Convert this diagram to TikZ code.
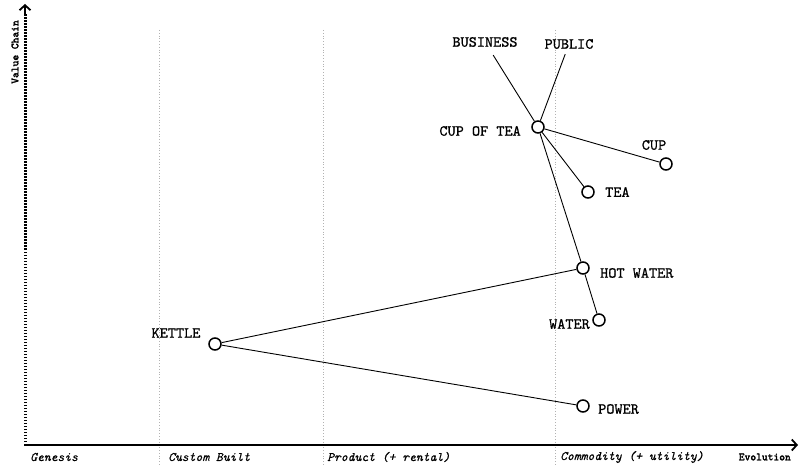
\documentclass[tikz,border=0pt]{standalone}
\usepackage{fontspec}
\usetikzlibrary{calc,shapes,arrows,arrows.meta}

\newfontfamily\tagfont[FakeBold=0.9]{lmmono10-regular.otf}
\newfontfamily\stagefont[FakeBold=0.5]{lmmono10-italic.otf}
\newfontfamily\axisfont[FakeBold=2.5]{lmmono10-regular.otf}

\tikzset{
  comp/.style={circle, draw=black, fill=white, line width=1.5pt, minimum size=12pt, inner sep=0pt},
  tag/.style={font=\fontsize{15.5}{17}\tagfont, inner sep=1pt},
  stage/.style={font=\fontsize{13}{15}\stagefont, inner sep=0pt},
  axistag/.style={font=\fontsize{11}{13}\axisfont, inner sep=0pt},
  gridline/.style={gray!60, dotted, line width=0.8pt},
  link/.style={black, line width=0.9pt},
  axistip/.style={-{Straight Barb[length=5pt, width=11pt, line width=1.8pt]}}
}

\begin{document}
\begin{tikzpicture}[x=1pt, y=-1pt]
    \useasboundingbox (0,0) rectangle (800,465);

    % evolution stages
    \draw [gridline] (159,30) -- (159,465);
    \draw [gridline] (323,30) -- (323,465);
    \draw [gridline] (555,30) -- (555,465);

    % axes
    \draw [black, line width=3pt, dash pattern=on 1.5pt off 1.5pt] (25,445) -- (25,14);
    \draw [line width=2pt, axistip] (25,16) -- (25,4);
    \draw [line width=2pt, axistip] (24,445) -- (798,445);

    \node [axistag, rotate=90] (valuechain) at (15,52) {Value Chain};
    \node [axistag, anchor=east] (evolution) at (791,457) {Evolution};

    \node [stage, anchor=west] (genesis) at (30,457) {Genesis};
    \node [stage, anchor=west] (custom) at (168,457) {Custom Built};
    \node [stage, anchor=west] (product) at (327,457) {Product (+ rental)};
    \node [stage, anchor=west] (commodity) at (560,457) {Commodity (+ utility)};

    % components
    \node [comp] (cupoftea) at (538,127) {};
    \node [comp] (cup) at (666,164) {};
    \node [comp] (tea) at (588,192) {};
    \node [comp] (hotwater) at (583,268) {};
    \node [comp] (water) at (599,320) {};
    \node [comp] (kettle) at (215,344) {};
    \node [comp] (power) at (583,406) {};

    \node [tag, inner sep=8pt] (business) at (485,42) {BUSINESS};
    \node [tag, inner sep=5pt] (public) at (569,44) {PUBLIC};

    \node [tag, anchor=east] (cupofteatag) at (522,131) {CUP OF TEA};
    \node [tag] (cuptag) at (654,145) {CUP};
    \node [tag, anchor=west] (teatag) at (604,192) {TEA};
    \node [tag, anchor=west] (hotwatertag) at (599,273) {HOT WATER};
    \node [tag, anchor=east] (watertag) at (591,324) {WATER};
    \node [tag] (kettletag) at (176,333) {KETTLE};
    \node [tag, anchor=west] (powertag) at (597,409) {POWER};

    % value chain links
    \draw [link] (business) -- (cupoftea);
    \draw [link] (public) -- (cupoftea);
    \draw [link] (cupoftea) -- (cup);
    \draw [link] (cupoftea) -- (tea);
    \draw [link] (cupoftea) -- (hotwater);
    \draw [link] (hotwater) -- (water);
    \draw [link] (hotwater) -- (kettle);
    \draw [link] (kettle) -- (power);
  \end{tikzpicture}
\end{document}
